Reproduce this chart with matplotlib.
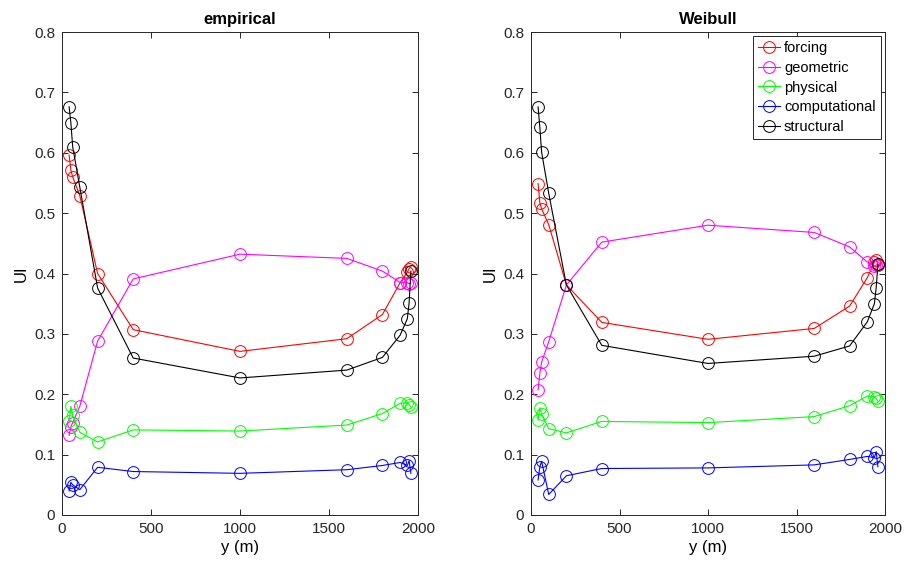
"""Uncertainty index along y for the empirical and Weibull fits."""

import matplotlib

matplotlib.use("Agg")
import matplotlib.pyplot as plt

plt.rcParams["font.family"] = ["Liberation Sans", "DejaVu Sans"]

y_pos = [40, 50, 60, 100, 200, 400, 1000, 1600, 1800, 1900, 1940, 1950, 1960]
series_names = ["forcing", "geometric", "physical", "computational", "structural"]

# empirical panel
emp_forcing = [0.596, 0.571, 0.560, 0.529, 0.400, 0.307, 0.271, 0.292, 0.332, 0.385, 0.402, 0.408, 0.411]
emp_geometric = [0.132, 0.146, 0.153, 0.180, 0.288, 0.391, 0.432, 0.425, 0.404, 0.385, 0.385, 0.383, 0.384]
emp_physical = [0.155, 0.180, 0.165, 0.137, 0.121, 0.141, 0.139, 0.149, 0.168, 0.185, 0.186, 0.183, 0.179]
emp_computational = [0.040, 0.054, 0.050, 0.042, 0.079, 0.072, 0.069, 0.075, 0.082, 0.087, 0.082, 0.090, 0.069]
emp_structural = [0.676, 0.649, 0.610, 0.543, 0.376, 0.260, 0.227, 0.240, 0.261, 0.298, 0.325, 0.351, 0.404]

# Weibull panel
wbl_forcing = [0.549, 0.517, 0.507, 0.481, 0.381, 0.319, 0.291, 0.309, 0.346, 0.393, 0.419, 0.423, 0.414]
wbl_geometric = [0.207, 0.235, 0.253, 0.287, 0.381, 0.452, 0.480, 0.468, 0.444, 0.419, 0.412, 0.414, 0.415]
wbl_physical = [0.157, 0.178, 0.167, 0.143, 0.136, 0.155, 0.153, 0.163, 0.181, 0.197, 0.196, 0.193, 0.188]
wbl_computational = [0.058, 0.080, 0.089, 0.034, 0.065, 0.077, 0.078, 0.083, 0.092, 0.097, 0.095, 0.105, 0.080]
wbl_structural = [0.676, 0.642, 0.601, 0.533, 0.381, 0.281, 0.251, 0.263, 0.280, 0.320, 0.350, 0.376, 0.415]

COLORS = ["#FF0000", "#FF00FF", "#00FF00", "#0000FF", "#000000"]
AXES_COLOR = "#262626"

panels = [
    ("empirical", [emp_forcing, emp_geometric, emp_physical, emp_computational, emp_structural]),
    ("Weibull", [wbl_forcing, wbl_geometric, wbl_physical, wbl_computational, wbl_structural]),
]
axes_rects = [
    [62 / 908, 51 / 566, 356 / 908, 483 / 566],
    [531 / 908, 51 / 566, 354 / 908, 483 / 566],
]

fig = plt.figure(figsize=(9.08, 5.66), dpi=100)

for (title, data), rect in zip(panels, axes_rects):
    ax = fig.add_axes(rect)
    for name, values, color in zip(series_names, data, COLORS):
        ax.plot(
            y_pos,
            values,
            color=color,
            marker="o",
            markersize=8.5,
            markerfacecolor="none",
            markeredgewidth=0.7,
            linewidth=0.8,
            label=name,
        )

    ax.set_xlim(0, 2000)
    ax.set_ylim(0, 0.8)
    ax.set_xticks([0, 500, 1000, 1500, 2000])
    ax.set_yticks([0, 0.1, 0.2, 0.3, 0.4, 0.5, 0.6, 0.7, 0.8])
    ax.set_yticklabels(["0", "0.1", "0.2", "0.3", "0.4", "0.5", "0.6", "0.7", "0.8"])
    ax.tick_params(direction="in", length=4, width=0.7, labelsize=11,
                   colors=AXES_COLOR, top=True, right=True, pad=5)
    for spine in ax.spines.values():
        spine.set_color(AXES_COLOR)
        spine.set_linewidth(0.7)

    ax.set_title(title, fontsize=12, fontweight="bold", pad=6)
    ax.set_xlabel("y (m)", fontsize=12, labelpad=3)
    ax.set_ylabel("UI", fontsize=12, labelpad=4)

    if title == "Weibull":
        leg = ax.legend(
            loc="upper right",
            fontsize=10.5,
            fancybox=False,
            framealpha=1,
            edgecolor=AXES_COLOR,
            borderaxespad=0.25,
            handlelength=1.5,
            handletextpad=0.25,
            labelspacing=0.38,
            borderpad=0.4,
        )
        leg.get_frame().set_linewidth(0.7)

fig.savefig("out.png", dpi=100)
